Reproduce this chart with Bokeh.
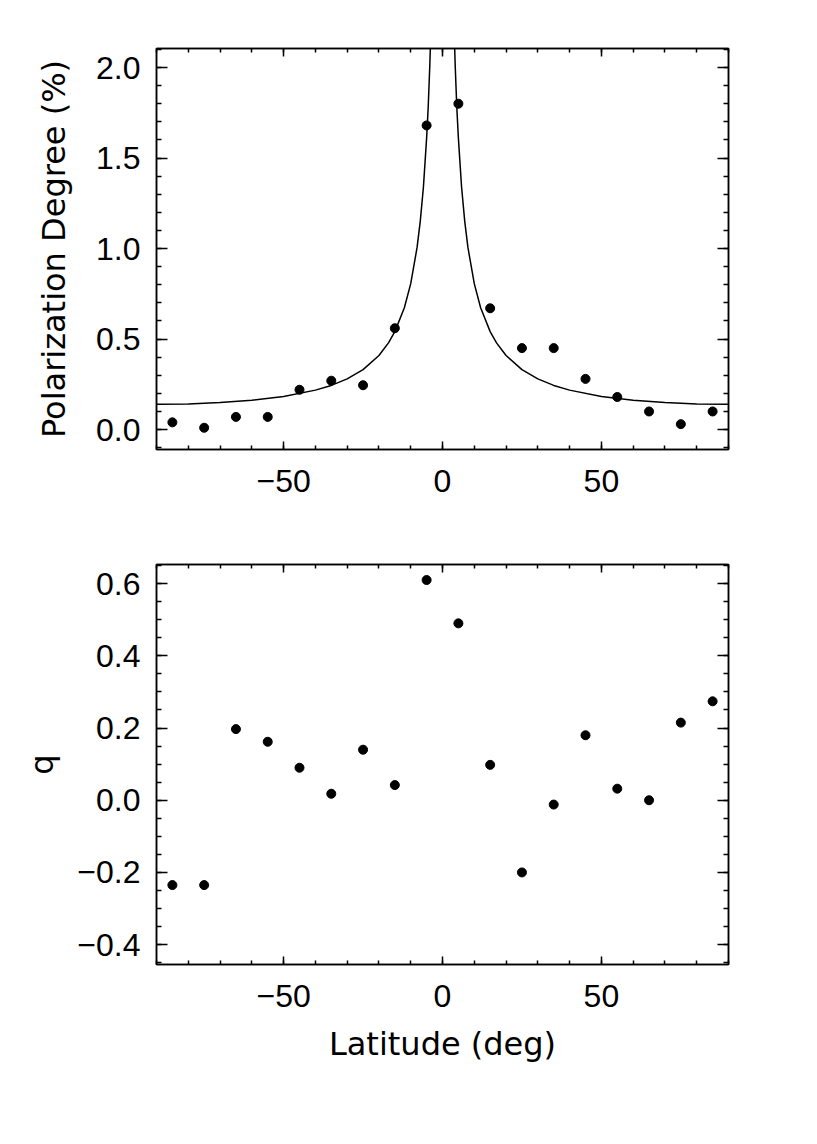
from bokeh.plotting import figure
from bokeh.models import LinearAxis, SingleIntervalTicker, Range1d, CustomJSTickFormatter
from bokeh.layouts import column
from bokeh.embed import file_html
from bokeh.resources import INLINE

# ---- data ----
lat = [-85, -75, -65, -55, -45, -35, -25, -15, -5, 5, 15, 25, 35, 45, 55, 65, 75, 85]
pol_deg = [0.04, 0.01, 0.07, 0.07, 0.22, 0.27, 0.245, 0.56, 1.68, 1.80,
           0.67, 0.45, 0.45, 0.28, 0.18, 0.10, 0.03, 0.10]
q_vals = [-0.235, -0.235, 0.197, 0.162, 0.09, 0.018, 0.14, 0.042, 0.61, 0.49,
          0.098, -0.20, -0.012, 0.18, 0.032, 0.0, 0.215, 0.274]

# model curve, right branch; left branch mirrors it
fit_abs_lat = [3.5, 4, 4.5, 5, 6, 7, 8, 10, 12, 15, 17, 20, 25, 30, 35, 40, 50, 60, 70, 80, 90]
fit_pol = [2.29, 2.01, 1.78, 1.61, 1.34, 1.15, 1.006, 0.806, 0.673, 0.541, 0.479,
           0.409, 0.331, 0.28, 0.244, 0.218, 0.183, 0.162, 0.149, 0.142, 0.140]

x_label = "Latitude (deg)"
y1_label = "Polarization Degree (%)"
y2_label = "q"

TICK_FONT = "Liberation Sans"
TITLE_FONT = "DejaVu Sans"


def fmt(decimals):
    return CustomJSTickFormatter(code=(
        "let v = tick; if (Math.abs(v) < 1e-9) { v = 0; } "
        "return v.toFixed(%d).replace('-', '\\u2212');" % decimals))


def style_axis(ax, interval, minors, tick_in, show_labels, decimals):
    ax.ticker = SingleIntervalTicker(interval=interval, num_minor_ticks=minors)
    ax.axis_line_color = "black"
    ax.axis_line_width = 1.5
    ax.major_tick_in = tick_in
    ax.major_tick_out = 0
    ax.minor_tick_in = tick_in // 2
    ax.minor_tick_out = 0
    ax.major_tick_line_color = "black"
    ax.major_tick_line_width = 1.5
    ax.minor_tick_line_color = "black"
    ax.minor_tick_line_width = 1.5
    if show_labels:
        ax.formatter = fmt(decimals)
        ax.major_label_text_font = TICK_FONT
        ax.major_label_text_font_size = "32px"
        ax.major_label_text_color = "black"
    else:
        ax.major_label_text_font_size = "1px"
        ax.major_label_text_alpha = 0
        ax.major_label_standoff = 0


def make_fig(height, top, bottom, yr, yint, yminor, ylabel, xlabel, ystand):
    p = figure(width=780, height=height, output_backend="svg", toolbar_location=None,
               x_range=Range1d(-90, 90), y_range=Range1d(*yr),
               min_border_left=156, min_border_right=52,
               min_border_top=top, min_border_bottom=bottom)
    p.xgrid.grid_line_color = None
    p.ygrid.grid_line_color = None
    p.outline_line_color = "black"
    p.outline_line_width = 1.5
    p.background_fill_color = "white"
    p.border_fill_color = "white"

    style_axis(p.xaxis[0], 50, 5, 8, True, 0)
    p.xaxis[0].major_label_standoff = 20
    style_axis(p.yaxis[0], yint, yminor, 11, True, 1)
    p.yaxis[0].major_label_standoff = 16
    p.yaxis[0].axis_label = ylabel
    p.yaxis[0].axis_label_text_font = TITLE_FONT
    p.yaxis[0].axis_label_text_font_size = "32px"
    p.yaxis[0].axis_label_text_font_style = "normal"
    p.yaxis[0].axis_label_text_color = "black"
    p.yaxis[0].axis_label_standoff = ystand
    if xlabel:
        p.xaxis[0].axis_label = xlabel
        p.xaxis[0].axis_label_text_font = TITLE_FONT
        p.xaxis[0].axis_label_text_font_size = "32px"
        p.xaxis[0].axis_label_text_font_style = "normal"
        p.xaxis[0].axis_label_text_color = "black"
        p.xaxis[0].axis_label_standoff = 15

    top_ax = LinearAxis()
    style_axis(top_ax, 50, 5, 8, False, 0)
    p.add_layout(top_ax, "above")
    right_ax = LinearAxis()
    style_axis(right_ax, yint, yminor, 11, False, 1)
    p.add_layout(right_ax, "right")
    return p


p1 = make_fig(529, 48, 80, (-0.11, 2.105), 0.5, 5, y1_label, None, 20)
right_x = fit_abs_lat
left_x = [-v for v in fit_abs_lat]
p1.line(right_x, fit_pol, line_color="black", line_width=1.5)
p1.line(left_x, fit_pol, line_color="black", line_width=1.5)
p1.scatter(lat, pol_deg, size=9, color="black")

p2 = make_fig(575, 35, 140, (-0.455, 0.653), 0.2, 4, y2_label, x_label, 13)
p2.scatter(lat, q_vals, size=9, color="black")

layout = column(p1, p2, spacing=0)
open("out.html", "w").write(file_html(layout, INLINE))
